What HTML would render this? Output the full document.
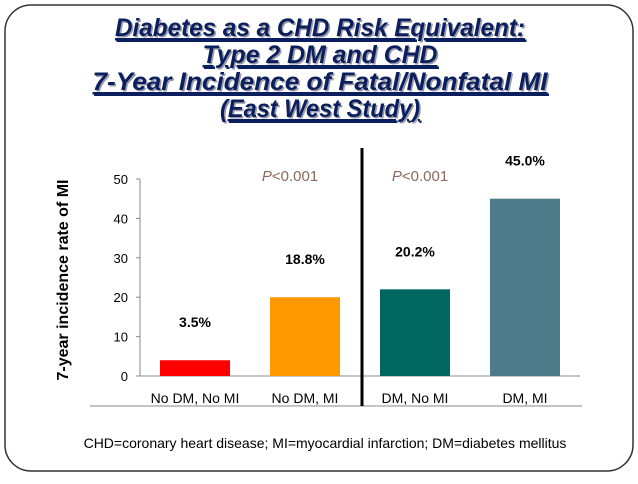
<!DOCTYPE html>
<html><head><meta charset="utf-8"><style>
body{margin:0;background:#fff;width:638px;height:479px;overflow:hidden;font-family:"Liberation Sans",sans-serif}
</style></head><body>
<svg width="638" height="479" xmlns="http://www.w3.org/2000/svg">
<rect x="5" y="5" width="628" height="466" rx="26" fill="#fff" stroke="#333" stroke-width="1.5"/>
<g font-family="Liberation Sans, sans-serif" font-weight="bold" font-style="italic" font-size="25" fill="#0b1f5e" text-anchor="middle" text-decoration="underline" lengthAdjust="spacingAndGlyphs">
<g fill="#9a9aa8" transform="translate(1.5,1.5)"><text x="320" y="36" textLength="410" lengthAdjust="spacingAndGlyphs">Diabetes as a CHD Risk Equivalent:</text><text x="320" y="63" textLength="235" lengthAdjust="spacingAndGlyphs">Type 2 DM and CHD</text><text x="320" y="90" textLength="455" lengthAdjust="spacingAndGlyphs">7-Year Incidence of Fatal/Nonfatal MI</text><text x="320" y="117" textLength="200" lengthAdjust="spacingAndGlyphs">(East West Study)</text></g>
<text x="320" y="36" textLength="410" lengthAdjust="spacingAndGlyphs">Diabetes as a CHD Risk Equivalent:</text>
<text x="320" y="63" textLength="235" lengthAdjust="spacingAndGlyphs">Type 2 DM and CHD</text>
<text x="320" y="90" textLength="455" lengthAdjust="spacingAndGlyphs">7-Year Incidence of Fatal/Nonfatal MI</text>
<text x="320" y="117" textLength="200" lengthAdjust="spacingAndGlyphs">(East West Study)</text>
</g>
<g id="chart"></g>
<text x="0" y="0" transform="translate(68,280) rotate(-90)" text-anchor="middle" font-size="16" font-weight="bold" fill="#000">7-year incidence rate of MI</text>
<text x="325" y="448" text-anchor="middle" font-size="14" fill="#000">CHD=coronary heart disease; MI=myocardial infarction; DM=diabetes mellitus</text>
</svg>
<script>
const categories=["No DM, No MI","No DM, MI","DM, No MI","DM, MI"];
const values=[4,20,22,45];
const valueLabels=["3.5%","18.8%","20.2%","45.0%"];
const colors=["#ff0000","#ff9900","#006660","#4e7b8a"];
const yTicks=[0,10,20,30,40,50];
const NS="http://www.w3.org/2000/svg";
const g=document.getElementById("chart");
const x0=140,x1=580,y0=376,y50=179;
const band=(x1-x0)/categories.length;
const y=v=>y0-(v/50)*(y0-y50);
const xc=i=>x0+band*(i+0.5);
function mk(t,a,p){const e=document.createElementNS(NS,t);for(const k in a)e.setAttribute(k,a[k]);(p||g).appendChild(e);return e;}
let ax=mk("line",{x1:x0,y1:y(50),x2:x0,y2:y0,stroke:"#888"});


let bx=mk("line",{x1:x0,y1:y0,x2:x1,y2:y0,stroke:"#888"});


let bl=mk("line",{x1:90,y1:406,x2:582,y2:406,stroke:"#888"});


yTicks.forEach(t=>{
 const tk=mk("line",{x1:x0-4,y1:y(t),x2:x0,y2:y(t),stroke:"#888"});
 
 
 const tx=mk("text",{x:x0-12,y:y(t)+5,"text-anchor":"end","font-size":"13",fill:"#000"});
 tx.textContent=t;
 
 
});
categories.forEach((c,i)=>{
 const bw=70;
 const r=mk("rect",{x:xc(i)-bw/2,y:y(values[i]),width:bw,height:y0-y(values[i]),fill:colors[i]});
 
 
 const l=mk("text",{x:xc(i),y:y(values[i])-33,"text-anchor":"middle","font-size":"14","font-weight":"bold",fill:"#000"});
 l.textContent=valueLabels[i];
 
 
 const cl=mk("text",{x:xc(i),y:403,"text-anchor":"middle","font-size":"14",fill:"#000"});
 cl.textContent=c;
 
 
});
const dv=mk("line",{x1:362,y1:148,x2:362,y2:406,stroke:"#000","stroke-width":3});


[290,420].forEach(px=>{
 const p=mk("text",{x:px,y:181,"text-anchor":"middle","font-size":"15",fill:"#8a6a5a"});
 p.innerHTML='<tspan font-style="italic">P</tspan>&lt;0.001';
 
 
});
</script>
</body></html>
